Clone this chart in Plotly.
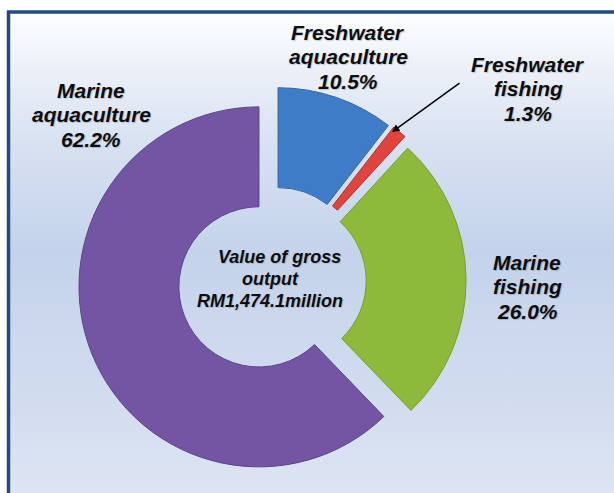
import plotly.graph_objects as go

# ---- data ----
categories = ["Freshwater aquaculture", "Freshwater fishing", "Marine fishing", "Marine aquaculture"]
shares = [10.5, 1.3, 26.0, 62.2]
colors = ["#3F7CC8", "#E0443C", "#8EBA3C", "#7455A3"]
edge_colors = ["#33689F", "#B3342D", "#77A02F", "#5C4388"]
pulls = [0.078, 0.085, 0.07, 0.087]

# label lines (text, x px, y px)
label_lines = [
    ("Freshwater", 348, 33), ("aquaculture", 348, 57), ("10.5%", 348, 81),
    ("Freshwater", 528, 64), ("fishing", 528, 88), ("1.3%", 528, 113),
    ("Marine", 91, 91), ("aquaculture", 91, 115), ("62.2%", 91, 140),
    ("Marine", 527, 262), ("fishing", 527, 286), ("26.0%", 527, 311),
]
center_lines = [("Value of gross", 279, 257), ("output", 270, 279), ("RM1,474.1million", 270, 301)]

W, H = 614, 493

fig = go.Figure()

# background panel with gradient and frame
fig.add_trace(go.Scatter(
    x=[8.5, 650, 650, 8.5, 8.5],
    y=[-30, -30, H - 12, H - 12, -30],
    mode="lines",
    fill="toself",
    line=dict(color="#244A84", width=3.5),
    fillgradient=dict(
        type="vertical",
        start=0, stop=H - 12,
        colorscale=[[0.0, "#DDE5F3"], [0.2, "#D2DCEF"], [0.5, "#C4D3EB"],
                    [0.72, "#D7E1F1"], [0.9, "#EEF2F9"], [1.0, "#FDFEFF"]],
    ),
    hoverinfo="skip",
    showlegend=False,
))

R_PX = 180.0
maxpull = max(pulls)
half = R_PX * (1 + maxpull)
cx, cy = 273.5, 281.0

fig.add_trace(go.Pie(
    labels=categories,
    values=shares,
    sort=False,
    direction="clockwise",
    rotation=0,
    hole=0.445,
    pull=pulls,
    textinfo="none",
    marker=dict(colors=colors, line=dict(color=edge_colors, width=1)),
    domain=dict(x=[(cx - half) / W, (cx + half) / W],
                y=[(H - cy - half) / H, (H - cy + half) / H]),
    showlegend=False,
))

font_lbl = dict(family="Liberation Sans, Arial, sans-serif", size=21, color="#0D0D0D",
                weight="bold", style="italic", shadow="1px 1px 1px rgba(0,0,0,0.18)")
font_ctr = dict(family="Liberation Sans, Arial, sans-serif", size=18, color="#0D0D0D",
                weight="bold", style="italic", shadow="1px 1px 1px rgba(0,0,0,0.15)")

annotations = []
for t, x, y in label_lines:
    annotations.append(dict(text=t, x=x / W, y=1 - y / H, xref="paper", yref="paper",
                            showarrow=False, xanchor="center", yanchor="middle", font=font_lbl))
for t, x, y in center_lines:
    annotations.append(dict(text=t, x=x / W, y=1 - y / H, xref="paper", yref="paper",
                            showarrow=False, xanchor="center", yanchor="middle", font=font_ctr))
# leader arrow to the small slice
annotations.append(dict(text="", x=392 / W, y=1 - 132 / H, xref="paper", yref="paper",
                        showarrow=True, arrowhead=2, arrowsize=1, arrowwidth=1.5,
                        arrowcolor="#000000", ax=69, ay=-50, standoff=0))

fig.update_layout(
    width=W, height=H,
    margin=dict(l=0, r=0, t=0, b=0),
    paper_bgcolor="#FFFFFF",
    plot_bgcolor="rgba(0,0,0,0)",
    xaxis=dict(range=[0, W], visible=False, fixedrange=True, domain=[0, 1]),
    yaxis=dict(range=[0, H], visible=False, fixedrange=True, domain=[0, 1]),
    annotations=annotations,
)

fig.write_html("out.html",
               config={"displayModeBar": False},
               post_script="document.body.style.margin='0';document.body.style.overflow='hidden';")
